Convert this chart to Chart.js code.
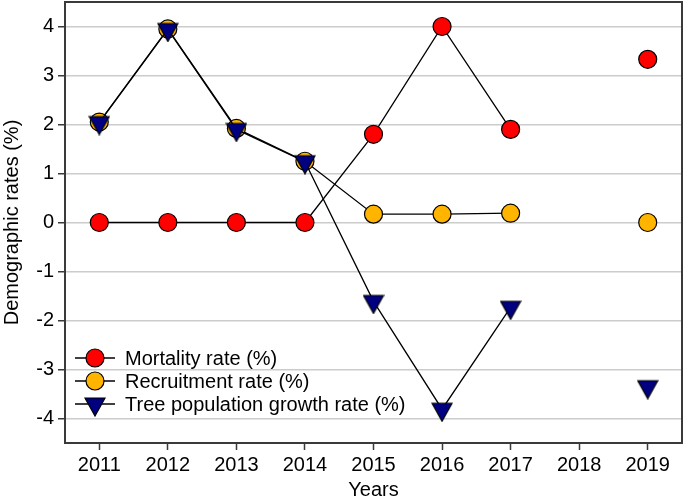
<!DOCTYPE html>
<html lang="en">
<head>
    <meta charset="UTF-8">
    <title>Demographic rates</title>
    <script src="https://cdn.jsdelivr.net/npm/chart.js"></script>
    <style>
        body {
            margin: 0;
            background-color: #FFFFFF;
        }
        #chartContainer {
            width: 685px;
            height: 502px;
        }
    </style>
</head>
<body>
    <div id="chartContainer">
        <canvas id="ratesChart" width="685" height="502"></canvas>
    </div>

    <script>
        // dados
        const anos = ['2011', '2012', '2013', '2014', '2015', '2016', '2017', '2018', '2019'];
        const mortalidade = [0, 0, 0, 0, 1.8, 4.0, 1.9, null, 3.33];
        const recrutamento = [2.05, 3.95, 1.92, 1.25, 0.17, 0.17, 0.19, null, 0];
        const crescimento = [2.04, 3.94, 1.9, 1.24, -1.61, -3.81, -1.73, null, -3.35];
        const ticksY = [-4, -3, -2, -1, 0, 1, 2, 3, 4];

        const fonte = 'Arial, "Liberation Sans", sans-serif';

        // triângulo invertido, centrado no baricentro
        function criarTriangulo() {
            const c = document.createElement('canvas');
            c.width = 22;
            c.height = 26;
            const g = c.getContext('2d');
            g.beginPath();
            g.moveTo(1, 7);
            g.lineTo(21, 7);
            g.lineTo(11, 25);
            g.closePath();
            g.fillStyle = '#000080';
            g.fill();
            g.lineWidth = 1.2;
            g.strokeStyle = '#000000';
            g.stroke();
            return c;
        }
        const triangulo = criarTriangulo();

        // moldura em volta da área do gráfico
        const moldura = {
            id: 'moldura',
            beforeDatasetsDraw(chart) {
                const a = chart.chartArea;
                const ctx = chart.ctx;
                ctx.save();
                ctx.strokeStyle = '#3a3a3a';
                ctx.lineWidth = 2;
                ctx.strokeRect(a.left, a.top, a.right - a.left, a.bottom - a.top);
                ctx.restore();
            }
        };

        // legenda com linha atravessando o marcador
        const legenda = {
            id: 'legenda',
            afterDatasetsDraw(chart) {
                const ctx = chart.ctx;
                ctx.save();
                chart.data.datasets.forEach((ds, i) => {
                    const y = 358 + i * 23;
                    ctx.strokeStyle = '#000000';
                    ctx.lineWidth = 1.3;
                    ctx.beginPath();
                    ctx.moveTo(75, y);
                    ctx.lineTo(115, y);
                    ctx.stroke();
                    if (ds.pointStyle === 'circle') {
                        ctx.beginPath();
                        ctx.arc(95, y, 9, 0, Math.PI * 2);
                        ctx.fillStyle = ds.pointBackgroundColor;
                        ctx.fill();
                        ctx.lineWidth = 1.2;
                        ctx.stroke();
                    } else {
                        ctx.drawImage(ds.pointStyle, 95 - 11, y - 13);
                    }
                    ctx.fillStyle = '#000000';
                    ctx.font = '20px ' + fonte;
                    ctx.textBaseline = 'middle';
                    ctx.textAlign = 'left';
                    ctx.fillText(ds.label, 125, y + 1);
                });
                ctx.restore();
            }
        };

        const ctx = document.getElementById('ratesChart').getContext('2d');

        const chart = new Chart(ctx, {
            type: 'line',
            data: {
                labels: anos,
                datasets: [{
                    label: 'Mortality rate (%)',
                    data: mortalidade,
                    order: 3,
                    borderColor: '#000000',
                    borderWidth: 1.3,
                    pointStyle: 'circle',
                    pointRadius: 9,
                    pointBackgroundColor: '#FF0000',
                    pointBorderColor: '#000000',
                    pointBorderWidth: 1.2,
                    spanGaps: false,
                    tension: 0
                }, {
                    label: 'Recruitment rate (%)',
                    data: recrutamento,
                    order: 2,
                    borderColor: '#000000',
                    borderWidth: 1.3,
                    pointStyle: 'circle',
                    pointRadius: 9,
                    pointBackgroundColor: '#FFB400',
                    pointBorderColor: '#000000',
                    pointBorderWidth: 1.2,
                    spanGaps: false,
                    tension: 0
                }, {
                    label: 'Tree population growth rate (%)',
                    data: crescimento,
                    order: 1,
                    borderColor: '#000000',
                    borderWidth: 1.3,
                    pointStyle: triangulo,
                    pointRadius: 10,
                    spanGaps: false,
                    tension: 0
                }]
            },
            options: {
                responsive: false,
                animation: false,
                events: [],
                layout: {
                    autoPadding: false,
                    padding: { left: 0, top: 2, right: 3, bottom: 0 }
                },
                plugins: {
                    legend: { display: false },
                    tooltip: { enabled: false }
                },
                scales: {
                    x: {
                        type: 'category',
                        offset: true,
                        afterFit(scale) {
                            scale.height = 59;
                            scale.paddingLeft = 0;
                            scale.paddingRight = 0;
                        },
                        border: { display: false },
                        grid: {
                            drawOnChartArea: false,
                            drawTicks: true,
                            tickLength: 7,
                            tickColor: '#3a3a3a',
                            tickWidth: 1.5
                        },
                        ticks: {
                            color: '#000000',
                            padding: 3,
                            maxRotation: 0,
                            font: { family: fonte, size: 20 }
                        },
                        title: {
                            display: true,
                            text: 'Years',
                            color: '#000000',
                            padding: 0,
                            font: { family: fonte, size: 20 }
                        }
                    },
                    y: {
                        min: -4.5,
                        max: 4.5,
                        afterFit(scale) {
                            scale.width = 65;
                            scale.paddingTop = 0;
                            scale.paddingBottom = 0;
                        },
                        afterBuildTicks(scale) {
                            scale.ticks = ticksY.map(v => ({ value: v }));
                        },
                        border: { display: false },
                        grid: {
                            color: '#cccccc',
                            lineWidth: 1.5,
                            tickLength: 7,
                            tickColor: '#3a3a3a',
                            tickWidth: 1.5
                        },
                        ticks: {
                            color: '#000000',
                            padding: 4,
                            font: { family: fonte, size: 20 }
                        },
                        title: {
                            display: true,
                            text: 'Demographic rates (%)',
                            color: '#000000',
                            padding: 0,
                            font: { family: fonte, size: 20 }
                        }
                    }
                }
            },
            plugins: [moldura, legenda]
        });
    </script>
</body>
</html>
